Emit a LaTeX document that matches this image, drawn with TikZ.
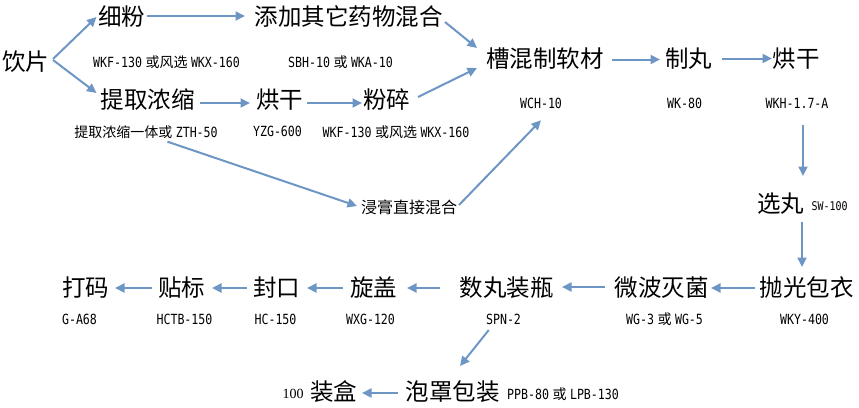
\documentclass[tikz,border=0pt]{standalone}
\usepackage{fontspec}
\usetikzlibrary{arrows.meta,calc}
\newfontfamily\cjk{Noto Sans CJK SC}
\newfontfamily\monof[FakeStretch=0.83]{DejaVu Sans Mono}
\newfontfamily\serifnum{Liberation Serif}
\newcommand{\zhs}[1]{\kern3.5pt{\cjk\fontsize{14}{14}\selectfont #1}\kern3.5pt}
\newcommand{\zhl}[1]{{\cjk\fontsize{14}{14}\selectfont #1}\kern3.5pt}
\definecolor{arrowblue}{RGB}{110,150,196}
\tikzset{
  big/.style={font=\cjk\fontsize{23.5}{28}\selectfont, inner sep=0pt},
  mid/.style={font=\cjk\fontsize{16}{18}\selectfont, inner sep=0pt},
  lab/.style={font=\monof\fontsize{14}{15}\selectfont, inner sep=0pt},
  labs/.style={font=\monof\fontsize{12}{13}\selectfont, inner sep=0pt},
  arr/.style={draw=arrowblue, line width=2pt, -{Triangle[length=9.5pt,width=9pt]}}
}
\begin{document}
\begin{tikzpicture}[x=1pt,y=-1pt]
\useasboundingbox (0,0) rectangle (859,407);
% main steps
\node[big] (yp) at (25.5,62) {饮片};
\node[big] (xf) at (121.5,17) {细粉};
\node[big] (tj) at (348.5,17) {添加其它药物混合};
\node[big] (tq) at (147.5,100) {提取浓缩};
\node[big] (hg1) at (279.5,100) {烘干};
\node[big] (fs) at (386.5,100) {粉碎};
\node[big] (cm) at (545,58.5) {槽混制软材};
\node[big] (zw) at (688.5,58.5) {制丸};
\node[big] (hg2) at (796,58.5) {烘干};
\node[big] (xw) at (780.5,204) {选丸};
\node[big] (pg) at (806.5,288) {抛光包衣};
\node[big] (wb) at (661.5,288) {微波灭菌};
\node[big] (sp) at (506.5,288) {数丸装瓶};
\node[big] (xg) at (373.5,288) {旋盖};
\node[big] (fk) at (276.5,288) {封口};
\node[big] (tb) at (181.5,288) {贴标};
\node[big] (dm) at (85.5,288) {打码};
\node[big] (pz) at (452.5,392) {泡罩包装};
\node[big] (zh) at (333.5,392) {装盒};
\node[mid] (jg) at (409,207) {浸膏直接混合};
% equipment labels
\node[lab] (l1) at (166.5,62) {WKF-130\zhs{或风选}WKX-160};
\node[lab] (l2) at (340.5,62) {SBH-10\zhs{或}WKA-10};
\node[lab] (l3) at (146,131.7) {\zhl{提取浓缩一体或}ZTH-50};
\node[lab] (l4) at (277.5,131.7) {YZG-600};
\node[lab] (l5) at (396,131.7) {WKF-130\zhs{或风选}WKX-160};
\node[lab] (l6) at (541,103.3) {WCH-10};
\node[lab] (l7) at (684.5,103.3) {WK-80};
\node[lab] (l8) at (797,103.3) {WKH-1.7-A};
\node[labs] (l9) at (829.5,206) {SW-100};
\node[lab] (l10) at (804.5,319) {WKY-400};
\node[lab] (l11) at (664.5,319) {WG-3\zhs{或}WG-5};
\node[lab] (l12) at (503.5,319) {SPN-2};
\node[lab] (l13) at (370.5,319) {WXG-120};
\node[lab] (l14) at (275.5,319) {HC-150};
\node[lab] (l15) at (184.5,319) {HCTB-150};
\node[lab] (l16) at (79.5,319) {G-A68};
\node[lab] (l17) at (563,394) {PPB-80\zhs{或}LPB-130};
\node[font=\serifnum\fontsize{14}{16}\selectfont, inner sep=0pt] (l18) at (293,394) {100};
% connectors
\draw[arr] ($(yp.center)+(27.5,-3)$) -- ($(xf.center)+(-25,0)$);
\draw[arr] ($(yp.center)+(27.5,-2)$) -- ($(tq.center)+(-51,-7)$);
\draw[arr] ($(xf.center)+(25.5,-1)$) -- ($(tj.center)+(-103.5,-1)$);
\draw[arr] ($(tq.center)+(52.5,3)$) -- ($(hg1.center)+(-29.5,3)$);
\draw[arr] ($(hg1.center)+(27.5,3)$) -- ($(fs.center)+(-24.5,3)$);
\draw[arr] ($(fs.center)+(31.5,-3)$) -- ($(cm.center)+(-68,9.5)$);
\draw[arr] ($(tj.center)+(96.5,5)$) -- ($(cm.center)+(-68,-10.5)$);
\draw[arr] ($(cm.center)+(67,1)$) -- ($(zw.center)+(-28.5,1)$);
\draw[arr] ($(zw.center)+(33.5,0)$) -- ($(hg2.center)+(-24,0)$);
\draw[arr] ($(l8.center)+(6,22)$) -- ($(xw.center)+(22.5,-28)$);
\draw[arr] ($(xw.center)+(21.5,18)$) -- ($(pg.center)+(-4.5,-21)$);
\draw[arr] ($(l3.center)+(21.5,10)$) -- ($(jg.center)+(-52,-1)$);
\draw[arr] ($(jg.center)+(50,-2)$) -- ($(l6.center)+(0,17)$);
\draw[arr] ($(pg.center)+(-51.5,0)$) -- ($(wb.center)+(49.5,0)$);
\draw[arr] ($(wb.center)+(-56.5,-1)$) -- ($(sp.center)+(55.5,-1)$);
\draw[arr] ($(sp.center)+(-66.5,0)$) -- ($(xg.center)+(33.5,0)$);
\draw[arr] ($(xg.center)+(-30.5,0)$) -- ($(fk.center)+(30.5,0)$);
\draw[arr] ($(fk.center)+(-29.5,0)$) -- ($(tb.center)+(30.5,0)$);
\draw[arr] ($(tb.center)+(-29.5,0)$) -- ($(dm.center)+(29.5,0)$);
\draw[arr] ($(l12.center)+(-14.7,11)$) -- ($(pz.center)+(7.5,-26)$);
\draw[arr] ($(pz.center)+(-54.5,1)$) -- ($(zh.center)+(28.5,1)$);
\end{tikzpicture}
\end{document}
